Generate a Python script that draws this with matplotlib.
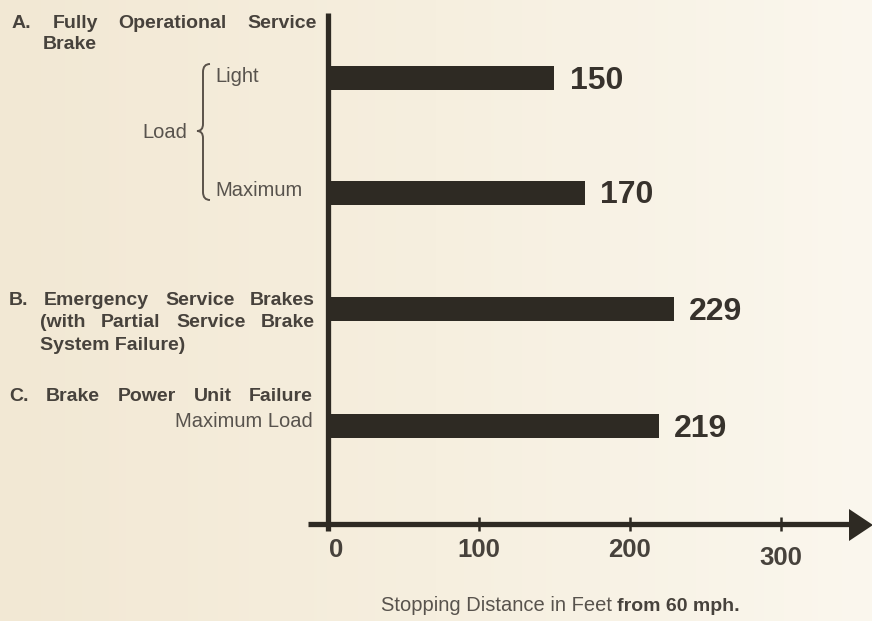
import matplotlib
matplotlib.use('Agg')
import numpy as np
import matplotlib.pyplot as plt
from matplotlib.transforms import Affine2D, blended_transform_factory
from matplotlib.patches import Polygon, PathPatch
from matplotlib.path import Path
from matplotlib.colors import LinearSegmentedColormap

# ---------------- data ----------------
categories = ["Light Load", "Maximum Load", "Emergency Service Brakes", "Brake Power Unit Failure"]
values = [150, 170, 229, 219]
tick_values = [0, 100, 200, 300]
tick_labels = ["0", "100", "200", "300"]

# ---------------- style / layout ----------------
W, H = 872, 621
BG = '#f4ecdb'
BAR = '#2e2a23'
AXC = '#2e2a23'
TXT = '#47423c'
TXT2 = '#58534d'
FONT = ['Liberation Sans', 'DejaVu Sans']

fig = plt.figure(figsize=(W / 100, H / 100), dpi=100, facecolor=BG)
pix = Affine2D().scale(1 / W, -1 / H).translate(0, 1) + fig.transFigure

# subtle paper gradient background
bg_ax = fig.add_axes([0, 0, 1, 1], zorder=-10)
bg_ax.axis('off')
grad = np.linspace(0, 1, 256).reshape(1, -1)
cmap = LinearSegmentedColormap.from_list('paper', ['#f2e8d4', '#f6efdf', '#fbf7ee'])
bg_ax.imshow(grad, aspect='auto', cmap=cmap, extent=[0, 1, 0, 1])

ax = fig.add_axes([300 / W, (H - 524) / H, 572 / W, (524 - 13) / H])
ax.set_facecolor('none')
ax.set_xlim(-18.5, 360.3)
ax.set_ylim(3.84, -0.54)

ypos = [0.02, 1.0, 2.0, 3.0]
ax.barh(ypos, values, height=0.206, color=BAR, left=0, zorder=2)

for s in ['top', 'right']:
    ax.spines[s].set_visible(False)
ax.spines['left'].set_position(('data', 0))
ax.spines['left'].set_bounds(-0.54, 3.9)
ax.spines['bottom'].set_bounds(-13, 350)
for s in ['left', 'bottom']:
    ax.spines[s].set_linewidth(3.8)
    ax.spines[s].set_color(AXC)
    ax.spines[s].set_capstyle('butt')
    ax.spines[s].set_zorder(3)

ax.set_yticks([])
ax.set_xticks(tick_values[1:])
ax.tick_params(axis='x', direction='inout', length=10, width=1.8, color=AXC, labelbottom=False)

# arrow head on the x axis
ax_y_pix = 524
fig.patches.append(Polygon([(849, ax_y_pix - 15), (873, ax_y_pix + 1), (849, ax_y_pix + 17)],
                           closed=True, transform=pix, facecolor=AXC, edgecolor='none'))

# tick labels
bt = blended_transform_factory(ax.transData, pix)
label_y = [557, 557, 557, 565]
label_dx = [6, 0, 0, 0]
for v, lab, ly, dx in zip(tick_values, tick_labels, label_y, label_dx):
    ax.annotate(lab, xy=(v, ly), xycoords=bt, xytext=(dx, 0), textcoords='offset points',
                ha='center', va='baseline', fontsize=18.5, fontweight='bold',
                family=FONT, color=TXT, annotation_clip=False)

# value labels
for y, v in zip(ypos, values):
    ax.annotate(str(v), xy=(v, y), xytext=(11, -2), textcoords='offset points',
                ha='left', va='center', fontsize=23, fontweight='bold',
                family=FONT, color='#37322c')

# ---------------- left-hand labels ----------------
fig.canvas.draw()
renderer = fig.canvas.get_renderer()

BS = 14        # bold label size
RS = 14.5      # regular label size


def justified(words, x0, x1, y, weight='bold', size=BS, color=TXT):
    ts = [fig.text(0, 0, w, transform=pix, ha='left', va='baseline', fontsize=size,
                   fontweight=weight, family=FONT, color=color) for w in words]
    widths = [t.get_window_extent(renderer).width for t in ts]
    gap = (x1 - x0 - sum(widths)) / max(len(words) - 1, 1)
    x = x0
    for t, w in zip(ts, widths):
        t.set_position((x, y))
        x += w + gap


def plain(s, x, y, ha='left', weight='bold', size=BS, color=TXT):
    fig.text(x, y, s, transform=pix, ha=ha, va='baseline', fontsize=size,
             fontweight=weight, family=FONT, color=color)


justified(["A.", "Fully", "Operational", "Service"], 12, 317, 28)
plain("Brake", 43, 49)
plain("Light", 215, 82, weight='normal', size=RS, color=TXT2)
plain("Load", 187, 138, ha='right', weight='normal', size=RS, color=TXT2)
plain("Maximum", 215, 196, weight='normal', size=RS, color=TXT2)

# brace
verts = [(210, 64), (203, 64), (203, 72),
         (203, 124),
         (203, 131), (197, 131),
         (203, 131), (203, 138),
         (203, 192),
         (203, 200), (210, 200)]
codes = [Path.MOVETO, Path.CURVE3, Path.CURVE3,
         Path.LINETO,
         Path.CURVE3, Path.CURVE3,
         Path.CURVE3, Path.CURVE3,
         Path.LINETO,
         Path.CURVE3, Path.CURVE3]
fig.patches.append(PathPatch(Path(verts, codes), transform=pix, facecolor='none',
                             edgecolor='#5a524a', linewidth=1.4))

justified(["B.", "Emergency", "Service", "Brakes"], 9, 315, 305)
justified(["(with", "Partial", "Service", "Brake"], 40, 315, 327)
plain("System Failure)", 40, 350)

justified(["C.", "Brake", "Power", "Unit", "Failure"], 9, 313, 401)
plain("Maximum Load", 313, 427, ha='right', weight='normal', size=RS, color=TXT2)

# x-axis title
plain("Stopping Distance in Feet", 612, 611, ha='right', weight='normal', size=14.5, color=TXT2)
plain("from 60 mph.", 617, 611, ha='left', weight='bold', size=14, color=TXT)

fig.savefig('out.png', dpi=100)
